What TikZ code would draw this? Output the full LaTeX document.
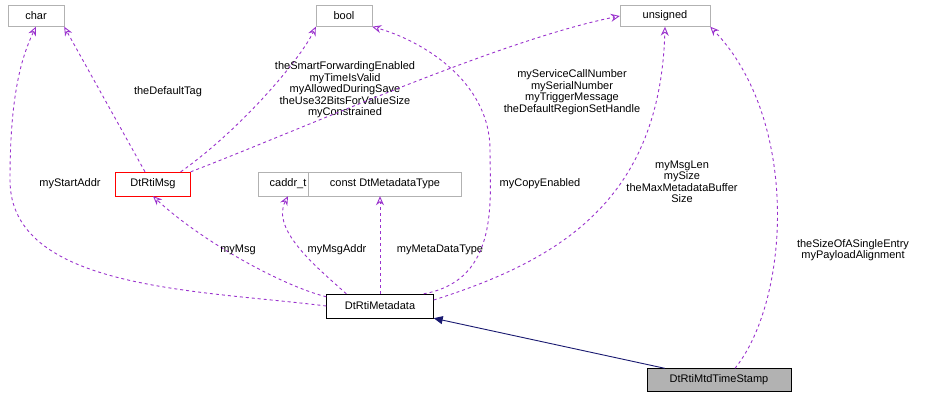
\documentclass[tikz,border=0pt]{standalone}
\usepackage{fontspec}
\setmainfont{Liberation Sans}
\usetikzlibrary{arrows.meta}
\definecolor{dpurple}{HTML}{9A32CD}
\definecolor{dnavy}{HTML}{191970}
\begin{document}
\begin{tikzpicture}[x=1pt,y=-1pt,
  box/.style={draw=#1,rectangle,minimum height=21pt,inner xsep=2pt,font=\fontsize{11}{12}\selectfont,fill=white},
  box/.default=gray!60,
  dep/.style={dpurple,dashed,line width=0.9pt,-{Stealth[open,length=9pt,width=8pt]}},
  inh/.style={dnavy,line width=0.9pt,-{Triangle[fill=dnavy,length=9pt,width=8pt]}},
  lbl/.style={font=\fontsize{11}{11.5}\selectfont,align=center,inner sep=0pt}]
\useasboundingbox (0,0) rectangle (928,400);
\node[box,minimum width=56pt] (char) at (36,16) {char};
\node[box,minimum width=56pt] (bool) at (344,16) {bool};
\node[box,minimum width=90pt] (uns) at (665,16) {unsigned};
\node[box=red,minimum height=24pt,minimum width=75pt] (msg) at (153,184) {DtRtiMsg};
\node[box,minimum height=24pt,minimum width=59pt] (caddr) at (288,184) {caddr\_t};
\node[box,minimum height=24pt,minimum width=153pt] (cmt) at (385,184) {const DtMetadataType};
\node[box=black,minimum height=24pt,minimum width=107pt] (meta) at (380,306) {DtRtiMetadata};
\node[box=black,fill=gray!60,minimum height=23pt,minimum width=144pt] (ts) at (719,380) {DtRtiMtdTimeStamp};

\draw[dep] (meta.west) .. controls (200,290) and (10,290) .. (10,180) .. controls (10,100) and (20,60) .. (char.south);
\node[lbl] at (70,184) {myStartAddr};
\draw[dep] (msg.north) ++(-8,0) -- (char.south east);
\node[lbl] at (168,92) {theDefaultTag};
\draw[dep] (msg.north east) ++(-10,0) .. controls (240,130) and (300,60) .. (bool.south west);
\node[lbl] at (345,90) {theSmartForwardingEnabled\\myTimeIsValid\\myAllowedDuringSave\\theUse32BitsForValueSize\\myConstrained};
\draw[dep] (msg.north east) .. controls (300,130) and (500,40) .. (uns.west);
\node[lbl] at (572,92) {myServiceCallNumber\\mySerialNumber\\myTriggerMessage\\theDefaultRegionSetHandle};
\draw[dep] (meta.north west) ++(0,3) .. controls (280,285) and (200,240) .. (msg.south);
\node[lbl] at (238,250) {myMsg};
\draw[dep] (meta.north west) ++(20,0) .. controls (320,270) and (270,230) .. (caddr.south);
\node[lbl] at (337,250) {myMsgAddr};
\draw[dep] (meta.north) -- (cmt.south -| meta.north);
\node[lbl] at (440,250) {myMetaDataType};
\draw[dep] (meta.north east) ++(-10,0) .. controls (500,280) and (490,200) .. (490,150) .. controls (490,80) and (420,40) .. (bool.south east);
\node[lbl] at (540,184) {myCopyEnabled};
\draw[dep] (meta.east) ++(0,-6) .. controls (560,260) and (660,200) .. (uns.south);
\node[lbl] at (682,182) {myMsgLen\\mySize\\theMaxMetadataBuffer\\Size};
\draw[inh] (ts.north west) ++(18,0) -- (meta.south east);
\draw[dep] (ts.north) ++(16,0) .. controls (790,300) and (800,120) .. (uns.south east);
\node[lbl] at (853,250) {theSizeOfASingleEntry\\myPayloadAlignment};
\end{tikzpicture}
\end{document}
